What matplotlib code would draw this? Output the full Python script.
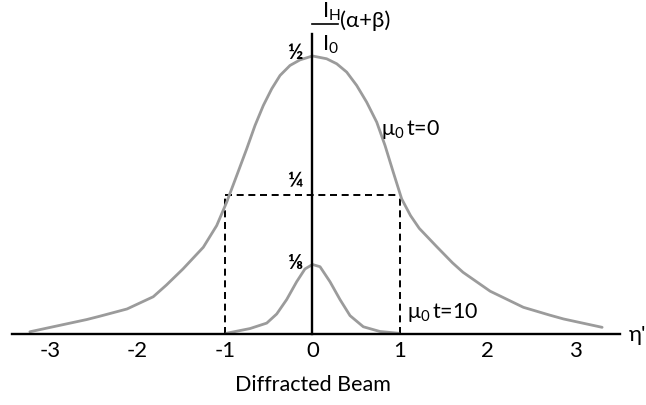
import matplotlib
matplotlib.use("Agg")
import matplotlib.pyplot as plt

plt.rcParams['font.family'] = ['Lato', 'DejaVu Sans']
plt.rcParams['mathtext.fontset'] = 'custom'
plt.rcParams['mathtext.rm'] = 'Lato'
plt.rcParams['mathtext.it'] = 'Lato'

# Diffracted intensity profile, thin crystal (mu0 t = 0)
eta_thin = [-3.23, -2.58, -2.43, -2.12, -1.82, -1.67, -1.48, -1.248, -1.095,
            -0.981, -0.866, -0.752, -0.657, -0.562, -0.466, -0.371, -0.257,
            -0.143, 0.0, 0.162, 0.277, 0.391, 0.505, 0.619, 0.734, 0.829,
            0.923, 1.019, 1.12, 1.22, 1.42, 1.60, 1.72, 2.03, 2.41, 2.71,
            2.87, 3.31]
int_thin = [0.004, 0.026, 0.032, 0.045, 0.067, 0.088, 0.117, 0.156, 0.195,
            0.237, 0.285, 0.333, 0.375, 0.411, 0.441, 0.465, 0.483,
            0.493, 0.500, 0.495, 0.486, 0.471, 0.447, 0.417, 0.381, 0.339,
            0.291, 0.243, 0.213, 0.190, 0.157, 0.128, 0.111, 0.077, 0.048,
            0.034, 0.027, 0.012]

# Diffracted intensity profile, absorbing crystal (mu0 t = 10)
eta_thick = [-0.98, -0.714, -0.523, -0.409, -0.295, -0.181, -0.086, 0.0,
             0.086, 0.200, 0.314, 0.429, 0.581, 0.771, 0.981]
int_thick = [0.0014, 0.0098, 0.0196, 0.036, 0.062, 0.094, 0.117, 0.125,
             0.121, 0.094, 0.062, 0.033, 0.013, 0.0045, 0.0014]

# Half-width marker
half_level = 0.25
half_width = [-1, 1]

tick_values = [-3, -2, -1, 0, 1, 2, 3]
tick_labels = ['-3', '-2', '-1', '0', '1', '2', '3']
level_values = [0.5, 0.25, 0.125]
level_labels = ['½', '¼', '⅛']

W, H, DPI = 646, 406, 100
fig = plt.figure(figsize=(W / DPI, H / DPI), dpi=DPI)
ax = fig.add_axes([0, 0, 1, 1])
ax.set_xlim(-3.5714, 3.8114)
ax.set_ylim(-0.1277, 0.6025)
ax.axis('off')

gray = '#9b9b9b'
for xs, ys in ((eta_thin, int_thin), (eta_thick, int_thick)):
    ax.plot(xs, ys, color=gray, lw=2.0, solid_capstyle='round',
            solid_joinstyle='round', zorder=2)

# axes drawn as plain lines
ax.plot([-3.43, 3.51], [0, 0], color='black', lw=1.7, zorder=3)
ax.plot([0, 0], [0, 0.5396], color='black', lw=1.7, zorder=3)

# dashed half-width box
dash = (0, (3.6, 2.4))
ax.plot(half_width, [half_level, half_level], color='black', lw=1.4,
        linestyle=dash, zorder=1)
for e in half_width:
    ax.plot([e, e], [0, half_level], color='black', lw=1.4, linestyle=dash, zorder=1)

fs = 15.5
for v, lab in zip(tick_values, tick_labels):
    ax.text(v, -0.029, lab, ha='center', va='center', fontsize=16, color='black')

level_offsets = [0.008, 0.027, 0.004]
for v, lab, off in zip(level_values, level_labels, level_offsets):
    ax.text(-0.20, v + off, lab, ha='center', va='center', fontsize=15,
            color='black', fontweight='bold')

ax.text(0.0, -0.09, 'Diffracted Beam', ha='center', va='center', fontsize=fs)
ax.text(3.62, 0.0, "η'", ha='left', va='center', fontsize=16)

# ordinate label: I_H / I_0 (alpha + beta)
ax.plot([-0.006, 0.291], [0.5576, 0.5576], color='black', lw=1.2)
ax.text(0.105, 0.581, 'I$_{\\mathrm{H}}$', ha='left', va='center', fontsize=16)
ax.text(0.105, 0.521, 'I$_{\\mathrm{0}}$', ha='left', va='center', fontsize=16)
ax.text(0.315, 0.566, '(α+β)', ha='left', va='center', fontsize=16)

ax.text(0.78, 0.370, 'μ$_{\\mathrm{0}}\\,$t=0', ha='left', va='center', fontsize=fs)
ax.text(1.08, 0.040, 'μ$_{\\mathrm{0}}\\,$t=10', ha='left', va='center', fontsize=fs)

fig.savefig('out.png', dpi=DPI, facecolor='white')
